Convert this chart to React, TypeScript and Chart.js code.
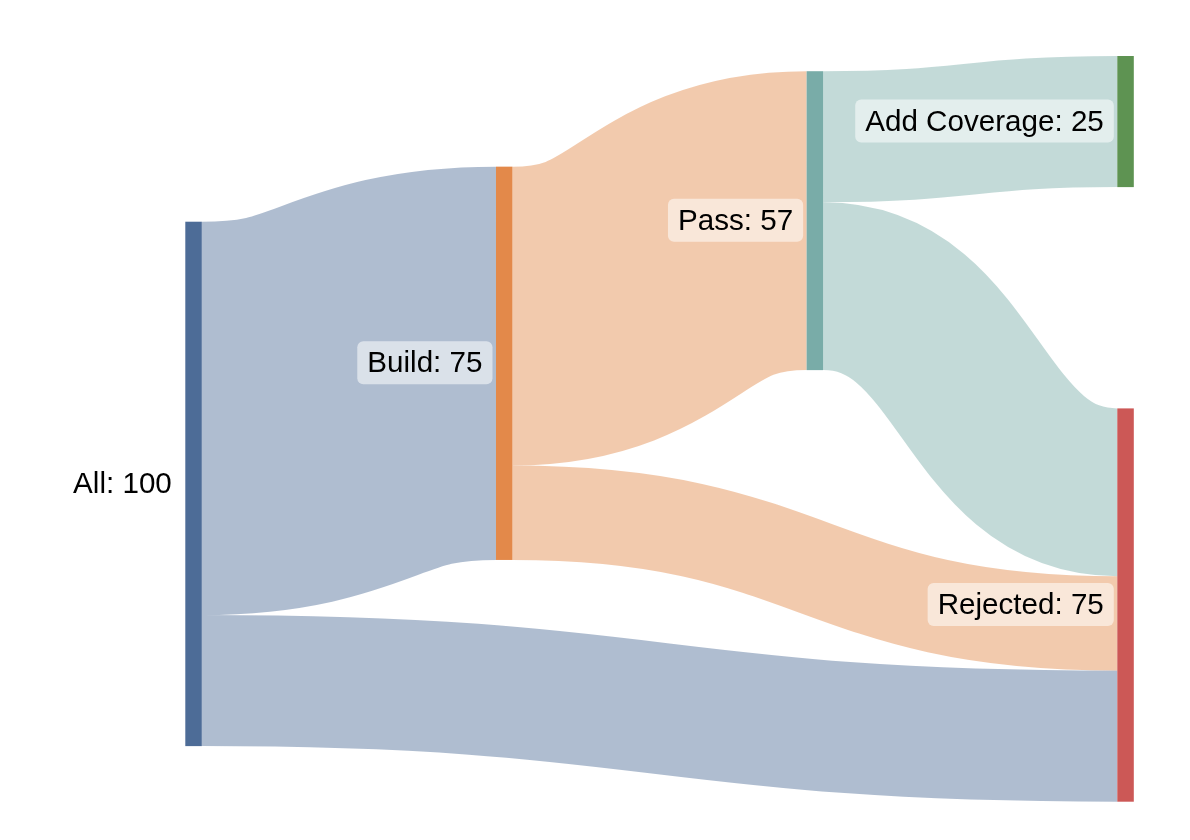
import React, { useEffect, useRef } from 'react';
import { Chart, registerables } from 'chart.js';

Chart.register(...registerables);

// ---- data ----
const nodeNames = ['All', 'Build', 'Pass', 'Add Coverage', 'Rejected'];
const nodeColumns = [0, 1, 2, 3, 3];
const nodeTops = [31.6, 21.1, 2.9, 0, 67.2]; // vertical offset of each node, in value units
const nodeColors = ['#4d6c97', '#e3894a', '#79aca8', '#5e9352', '#cc5856'];
const linkSources = [0, 0, 1, 1, 2, 2];
const linkTargets = [1, 4, 2, 4, 3, 4];
const linkValues = [75, 25, 57, 18, 25, 32];
const columnTicks = [0, 1, 2, 3];
const valueExtent = 142.2;

const NODE_WIDTH = 16.5;
const LINK_ALPHA = 0.45;
const FONT = '29.6px "Liberation Sans", Arial, Helvetica, sans-serif';

function rgba(hex: string, a: number) {
  const n = parseInt(hex.slice(1), 16);
  return `rgba(${(n >> 16) & 255},${(n >> 8) & 255},${n & 255},${a})`;
}

const sankeyPlugin = {
  id: 'sankeyPlugin',
  afterDatasetsDraw(chart: any) {
    const { ctx } = chart;
    const xs = chart.scales.x;
    const ys = chart.scales.y;
    const py = (v: number) => ys.getPixelForValue(v);
    const pxW = (v: number) => py(v) - py(0);

    const n = nodeNames.length;
    const nodeValues = nodeNames.map((_, i) => {
      let inn = 0, out = 0;
      linkValues.forEach((v, k) => {
        if (linkTargets[k] === i) inn += v;
        if (linkSources[k] === i) out += v;
      });
      return Math.max(inn, out);
    });

    // link offsets
    const sy: number[] = new Array(linkValues.length).fill(0);
    const ty: number[] = new Array(linkValues.length).fill(0);
    for (let i = 0; i < n; i++) {
      const outs = linkValues.map((_, k) => k).filter((k) => linkSources[k] === i)
        .sort((a, b) => nodeTops[linkTargets[a]] - nodeTops[linkTargets[b]]);
      let acc = nodeTops[i];
      outs.forEach((k) => { sy[k] = acc + linkValues[k] / 2; acc += linkValues[k]; });
      const ins = linkValues.map((_, k) => k).filter((k) => linkTargets[k] === i)
        .sort((a, b) => nodeTops[linkSources[a]] - nodeTops[linkSources[b]]);
      acc = nodeTops[i];
      ins.forEach((k) => { ty[k] = acc + linkValues[k] / 2; acc += linkValues[k]; });
    }

    ctx.save();
    // links
    linkValues.forEach((v, k) => {
      const s = linkSources[k], t = linkTargets[k];
      const x0 = xs.getPixelForValue(nodeColumns[s]) + NODE_WIDTH;
      const x1 = xs.getPixelForValue(nodeColumns[t]);
      const y0 = py(sy[k]);
      const y1 = py(ty[k]);
      const xm = (x0 + x1) / 2;
      ctx.beginPath();
      ctx.moveTo(x0, y0);
      ctx.bezierCurveTo(xm, y0, xm, y1, x1, y1);
      ctx.lineWidth = pxW(v);
      ctx.lineCap = 'butt';
      ctx.strokeStyle = rgba(nodeColors[s], LINK_ALPHA);
      ctx.stroke();
    });

    // nodes
    nodeNames.forEach((_, i) => {
      const x = xs.getPixelForValue(nodeColumns[i]);
      const yTop = py(nodeTops[i]);
      const h = pxW(nodeValues[i]);
      ctx.fillStyle = nodeColors[i];
      ctx.fillRect(x, yTop, NODE_WIDTH, h);
    });

    // labels
    ctx.font = FONT;
    ctx.textAlign = 'right';
    ctx.textBaseline = 'middle';
    nodeNames.forEach((name, i) => {
      const label = `${name}: ${nodeValues[i]}`;
      const x = xs.getPixelForValue(nodeColumns[i]);
      const cy = py(nodeTops[i] + nodeValues[i] / 2) - 0.5;
      const tr = x - 13.5;
      const w = ctx.measureText(label).width;
      ctx.fillStyle = 'rgba(255,255,255,0.55)';
      ctx.beginPath();
      if (ctx.roundRect) ctx.roundRect(tr - w - 10, cy - 21.5, w + 20, 43, 6);
      else ctx.rect(tr - w - 10, cy - 21.5, w + 20, 43);
      ctx.fill();
      ctx.fillStyle = '#000';
      ctx.fillText(label, tr, cy + 1.5);
    });
    ctx.restore();
  },
};

export default function App() {
  const ref = useRef<HTMLCanvasElement>(null);
  useEffect(() => {
    if (!ref.current) return;
    const chart = new Chart(ref.current, {
      type: 'scatter',
      data: { datasets: [{ data: [], pointRadius: 0 }] },
      options: {
        animation: false,
        responsive: false,
        events: [],
        layout: { padding: { left: 185.3, right: 72.7, top: 56, bottom: 38.3 } },
        plugins: { legend: { display: false }, tooltip: { enabled: false } },
        scales: {
          x: {
            type: 'linear', display: false,
            min: columnTicks[0], max: columnTicks[columnTicks.length - 1],
          },
          y: { type: 'linear', display: false, min: 0, max: valueExtent, reverse: true },
        },
      },
      plugins: [sankeyPlugin],
    } as any);
    return () => chart.destroy();
  }, []);
  return (
    <div style={{ position: 'absolute', left: 0, top: 0, width: 1190, height: 840, background: '#fff' }}>
      <canvas ref={ref} width={1190} height={840} style={{ display: 'block' }} />
    </div>
  );
}
